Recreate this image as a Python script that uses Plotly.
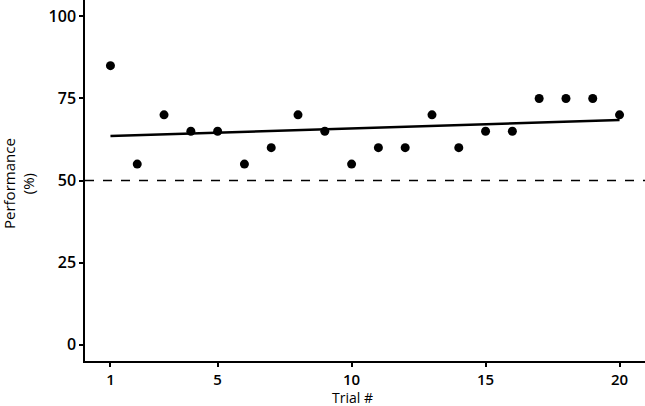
import numpy as np
import plotly.graph_objects as go

trials = list(range(1, 21))
performance = [85, 55, 70, 65, 65, 55, 60, 70, 65, 55, 60, 60, 70, 60, 65, 65, 75, 75, 75, 70]
x_ticks = [1, 5, 10, 15, 20]
y_ticks = [0, 25, 50, 75, 100]
chance_level = 50

slope, intercept = np.polyfit(trials, performance, 1)
fit_x = [trials[0], trials[-1]]
fit_y = [intercept + slope * v for v in fit_x]

fig = go.Figure()
fig.add_trace(go.Scatter(x=[0.05, 20.95], y=[chance_level, chance_level], mode="lines",
                         line=dict(color="black", width=1.5, dash="dash"), hoverinfo="skip"))
fig.add_trace(go.Scatter(x=fit_x, y=fit_y, mode="lines", line=dict(color="black", width=2.5)))
fig.add_trace(go.Scatter(x=trials, y=performance, mode="markers",
                         marker=dict(color="black", size=9)))

font = "Open Sans, Noto Sans, sans-serif"
fig.update_layout(
    template="none",
    width=645, height=406,
    margin=dict(l=85, r=0, t=0, b=45, pad=0),
    plot_bgcolor="white", paper_bgcolor="white",
    showlegend=False,
    font=dict(family=font, color="black"),
    xaxis=dict(range=[0.05, 20.95], tickvals=x_ticks, ticktext=[str(v) for v in x_ticks],
               showgrid=False, zeroline=False, showline=True, linecolor="black", linewidth=1.5,
               ticks="outside", ticklen=4, tickwidth=1.5, tickcolor="black",
               tickfont=dict(size=15, color="black", weight=600)),
    yaxis=dict(range=[-5, 105], tickvals=y_ticks, ticktext=[str(v) for v in y_ticks],
               showgrid=False, zeroline=False, showline=True, linecolor="black", linewidth=1.5,
               ticks="outside", ticklen=4, tickwidth=1.5, tickcolor="black",
               tickfont=dict(size=16, color="black", weight=600)),
    annotations=[
        dict(text="Performance<br>(%)", xref="paper", yref="paper", x=-0.1179, y=0.493,
             xanchor="center", yanchor="middle", textangle=-90, showarrow=False,
             font=dict(size=15, color="black", family=font)),
        dict(text="Trial #", xref="paper", yref="paper", x=0.477, y=-0.1,
             xanchor="center", yanchor="middle", showarrow=False,
             font=dict(size=14, color="black", family=font)),
    ],
)
fig.write_html("out.html", post_script="document.body.style.margin='0';",
               config={"displayModeBar": False})
